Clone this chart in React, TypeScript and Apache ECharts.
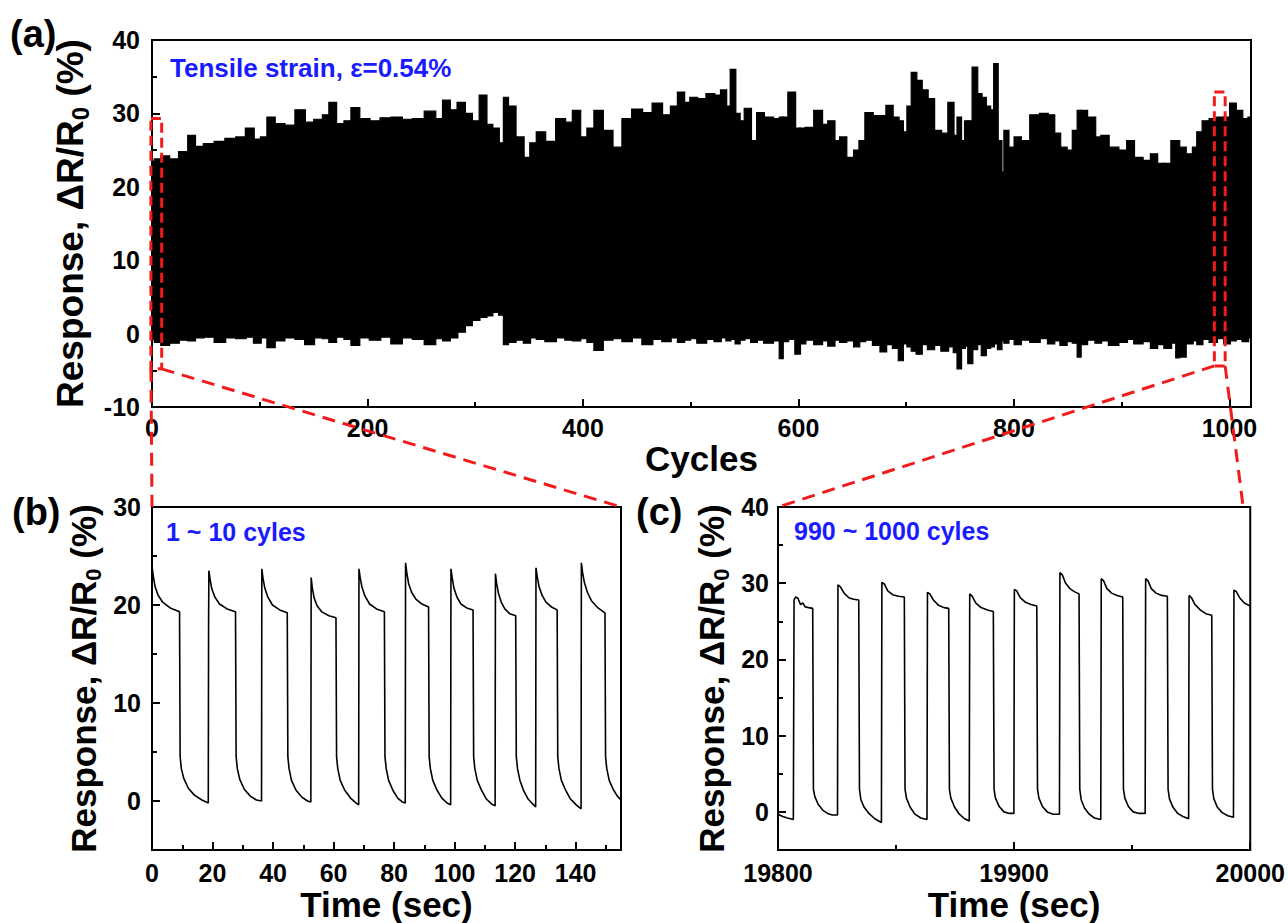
import React, { useEffect, useRef } from "react";
import * as echarts from "echarts";

const FONT = '"Liberation Sans", Arial, Helvetica, sans-serif';
const BLUE = "#1a1aff";
const RED = "#f01c1c";

// ---------- Panel (a): envelope of the dense response over 1000 cycles ----------
const aCycles = [
  0, 5, 12, 20, 30, 37, 43, 53, 63, 73,
  83, 91, 98, 104, 110, 118, 128, 138, 146, 155,
  162, 167, 175, 182, 188, 197, 207, 217, 227, 237,
  247, 259, 267, 273, 280, 287, 294, 300, 308, 313,
  319, 325, 328, 333, 342, 348, 354, 360, 370, 380,
  387, 394, 401, 407, 414, 423, 432, 441, 450, 460,
  469, 478, 485, 491, 497, 502, 510, 519, 525, 531,
  535, 539, 544, 547, 553, 559, 564, 572, 581, 584,
  587, 594, 600, 603, 610, 619, 625, 630, 637, 640,
  649, 654, 659, 665, 673, 679, 684, 691, 695, 699,
  703, 707, 712, 717, 723, 729, 736, 742, 746, 749,
  753, 756, 759, 764, 768, 772, 776, 780, 783, 787,
  790, 792, 798, 803, 810, 820, 828, 835, 840, 846,
  852, 857, 861, 863, 873, 878, 884, 892, 902, 908,
  915, 924, 930, 936, 943, 949, 952, 955, 964, 968,
  972, 978, 985, 992, 998, 1003, 1009, 1015, 1020,
];
const aUpper = [
  23.5, 23.8, 24.2, 23.8, 24.8, 27.0, 25.5, 25.9, 26.2, 26.6,
  26.8, 28.0, 26.5, 26.8, 29.5, 28.6, 28.4, 30.5, 28.8, 29.2,
  29.8, 31.5, 28.6, 29.0, 30.8, 29.3, 29.0, 29.4, 29.5, 29.2,
  29.3, 30.3, 29.3, 31.8, 30.5, 31.5, 30.0, 29.0, 32.5, 28.5,
  28.0, 26.0, 32.2, 31.0, 26.8, 24.0, 26.0, 27.5, 26.2, 29.3,
  28.8, 30.4, 26.8, 28.0, 30.4, 27.7, 25.4, 29.3, 30.6, 30.1,
  31.4, 29.8, 31.0, 32.9, 31.5, 32.2, 32.0, 32.7, 32.5, 33.2,
  31.0, 36.0, 30.0, 29.0, 30.7, 26.3, 30.1, 29.5, 29.3, 29.5,
  29.5, 32.9, 28.0, 28.0, 28.1, 30.4, 28.5, 29.0, 26.3, 26.8,
  24.0, 25.0, 26.3, 30.1, 29.7, 29.7, 31.1, 29.5, 29.0, 27.5,
  31.0, 35.6, 34.5, 33.2, 32.0, 27.7, 27.3, 31.5, 27.0, 29.5,
  26.3, 29.0, 29.0, 36.3, 32.7, 32.2, 31.0, 30.5, 36.8, 26.3,
  22.0, 27.7, 25.4, 26.8, 26.3, 29.8, 30.0, 29.8, 27.3, 25.4,
  25.0, 27.7, 30.4, 30.4, 29.5, 26.8, 27.0, 25.4, 25.0, 26.3,
  24.0, 23.6, 24.5, 23.2, 23.2, 26.3, 26.3, 25.4, 24.5, 25.4,
  27.5, 29.0, 29.3, 29.5, 29.5, 31.4, 30.4, 29.3, 29.5,
];
const aLower = [
  -0.8, -1.2, -1.6, -1.3, -0.9, -1.0, -0.6, -0.5, -1.2, -0.6,
  -0.7, -0.5, -1.3, -0.6, -1.9, -1.0, -0.6, -0.8, -1.5, -0.6,
  -0.7, -1.2, -0.5, -0.8, -1.6, -0.6, -0.9, -0.5, -1.4, -0.6,
  -0.8, -1.5, -0.7, -1.0, -0.6, 0.2, 1.1, 1.8, 2.2, 2.4,
  2.9, 2.5, -1.5, -1.2, -0.9, -1.3, -0.6, -0.8, -1.1, -0.6,
  -0.9, -1.0, -0.7, -1.2, -2.3, -0.9, -0.7, -1.1, -0.6, -1.5,
  -0.8, -1.1, -0.6, -1.2, -0.9, -0.7, -1.3, -0.8, -1.1, -0.6,
  -1.0, -0.8, -1.4, -0.9, -0.7, -1.2, -0.9, -1.3, -1.0, -3.4,
  -1.1, -0.8, -2.8, -1.4, -0.9, -1.5, -1.0, -1.7, -0.9, -1.2,
  -1.0, -1.8, -1.1, -0.9, -1.6, -2.5, -1.5, -2.0, -3.7, -1.4,
  -1.8, -2.4, -2.8, -1.5, -2.2, -1.6, -2.4, -1.8, -2.6, -4.8,
  -2.0, -1.7, -4.1, -2.2, -1.5, -3.0, -2.0, -1.8, -1.4, -2.2,
  -1.0, -1.3, -0.8, -1.5, -0.9, -1.2, -0.7, -1.4, -1.0, -1.6,
  -1.1, -1.3, -3.2, -1.5, -0.9, -1.3, -1.0, -1.6, -1.2, -0.8,
  -1.4, -1.1, -2.0, -1.5, -2.0, -1.3, -3.3, -3.2, -1.4, -1.0,
  -1.5, -0.8, -1.2, -0.7, -1.4, -1.0, -0.8, -1.1, -0.6,
];

// ---------- Panel (b): 1 ~ 10 cycles (time in s, response in %) ----------
const bPoints: [number, number][] = [
  [0, 24.0], [0.4, 23.0], [1, 21.9], [2, 21.0], [3.5, 20.3], [6, 19.7], [9.1, 19.3],
  [9.3, 4.5], [9.7, 3.3], [10.5, 2.3], [12, 1.3], [14, 0.6], [16.5, 0.1], [18.6, -0.2],
  [18.7, 17.8], [18.8, 23.5], [19.2, 22.6], [19.8, 21.6], [20.8, 20.8], [22.3, 20.1], [24.8, 19.6], [27.6, 19.3],
  [27.8, 4.5], [28.2, 3.3], [29, 2.2], [30.5, 1.2], [32.5, 0.5], [34.5, 0.1], [36.2, 0.0],
  [36.3, 23.7], [36.7, 22.7], [37.3, 21.7], [38.3, 20.8], [39.8, 20.0], [42.2, 19.5], [44.7, 19.2],
  [44.9, 4.5], [45.3, 3.3], [46.1, 2.1], [47.6, 1.1], [49.5, 0.4], [51.4, 0.0], [52.5, -0.1],
  [52.6, 22.8], [53, 21.7], [53.6, 20.7], [54.6, 19.9], [56.1, 19.3], [58.5, 18.9], [60.8, 18.7],
  [61, 4.5], [61.4, 3.3], [62.2, 2.1], [63.7, 1.1], [65.6, 0.3], [67.4, -0.2], [68.3, -0.4],
  [68.4, 23.7], [68.8, 22.8], [69.4, 21.8], [70.4, 20.9], [71.9, 20.1], [74.2, 19.6], [76.8, 19.3],
  [77, 4.5], [77.4, 3.3], [78.2, 2.1], [79.6, 1.1], [81.2, 0.3], [82.7, -0.1], [83.7, -0.2],
  [83.8, 24.3], [84.2, 23.3], [84.8, 22.2], [85.8, 21.3], [87.2, 20.6], [89.2, 20.1], [91.4, 19.8],
  [91.6, 4.5], [92, 3.3], [92.8, 2.1], [94.2, 1.1], [95.8, 0.3], [97.5, -0.2], [98.7, -0.4],
  [98.8, 23.7], [99.2, 22.8], [99.8, 21.7], [100.8, 20.8], [102.1, 20.1], [104, 19.7], [106.1, 19.5],
  [106.3, 4.5], [106.7, 3.3], [107.5, 2.1], [108.9, 1.1], [110.5, 0.2], [112.2, -0.3], [113.4, -0.5],
  [113.5, 23.2], [113.9, 22.2], [114.5, 21.2], [115.4, 20.3], [116.6, 19.6], [118.3, 19.1], [120.2, 18.9],
  [120.4, 4.5], [120.8, 3.3], [121.6, 2.1], [122.9, 1.0], [124.3, 0.2], [125.8, -0.3], [126.8, -0.6],
  [126.9, 23.8], [127.3, 22.9], [127.9, 21.9], [128.9, 21.0], [130.2, 20.3], [132, 19.8], [133.9, 19.5],
  [134.1, 4.5], [134.5, 3.3], [135.3, 2.1], [136.7, 1.1], [138.3, 0.2], [140.2, -0.4], [141.8, -0.8],
  [141.9, 24.3], [142.3, 23.3], [142.9, 22.3], [143.9, 21.3], [145.3, 20.4], [147.4, 19.7], [149.7, 19.2],
  [149.9, 4.5], [150.3, 3.3], [151.1, 2.1], [152.4, 1.2], [153.8, 0.5], [155, 0.1],
];

// ---------- Panel (c): 990 ~ 1000 cycles ----------
const cPoints: [number, number][] = [
  [19800, -0.3], [19802, -0.6], [19804, -0.8], [19806.5, -1.0],
  [19806.8, 27.8], [19807.5, 28.2], [19808.5, 28.0], [19809.5, 27.2], [19810.5, 27.4], [19811.5, 26.9], [19813, 26.8], [19814.7, 26.7],
  [19815, 3.0], [19815.6, 2.0], [19817, 1.0], [19819, 0.2], [19821, -0.2], [19823, -0.4], [19825.2, -0.4],
  [19825.4, 29.8], [19826.5, 29.5], [19828, 28.7], [19830, 28.1], [19832, 27.9], [19834.2, 27.8],
  [19834.5, 3.0], [19835.1, 1.6], [19836.5, 0.6], [19838.5, -0.2], [19841, -0.9], [19843.8, -1.4],
  [19844, 30.1], [19845, 29.9], [19846.5, 29.0], [19848.5, 28.5], [19851, 28.3], [19853.5, 28.2],
  [19853.8, 3.0], [19854.4, 1.8], [19856, 0.6], [19858, -0.3], [19860.5, -0.8], [19863.1, -1.0],
  [19863.3, 28.8], [19864.3, 28.6], [19865.8, 27.8], [19868, 27.1], [19870.3, 26.8], [19872.3, 26.7],
  [19872.6, 3.0], [19873.2, 1.8], [19874.8, 0.6], [19876.8, -0.3], [19879, -0.9], [19881, -1.2],
  [19881.2, 28.6], [19882.2, 28.3], [19883.8, 27.4], [19886, 26.8], [19888.7, 26.5], [19891.2, 26.3],
  [19891.5, 3.0], [19892.1, 1.8], [19893.7, 0.7], [19895.7, 0.0], [19898, -0.2], [19899.9, -0.2],
  [19900.1, 29.2], [19901.1, 29.0], [19902.6, 28.1], [19904.8, 27.5], [19907.2, 27.2], [19909.6, 27.0],
  [19909.9, 3.0], [19910.5, 1.8], [19912, 0.7], [19914, 0.0], [19916.5, -0.3], [19919.2, -0.3],
  [19919.4, 31.4], [19920.4, 31.1], [19921.8, 30.0], [19923.6, 29.3], [19925.5, 28.9], [19927.5, 28.6],
  [19927.8, 3.0], [19928.4, 1.6], [19929.8, 0.5], [19931.8, -0.3], [19934, -0.8], [19936.7, -1.0],
  [19936.9, 30.6], [19937.9, 30.3], [19939.3, 29.3], [19941.3, 28.7], [19943.6, 28.4], [19946, 28.2],
  [19946.3, 3.0], [19946.9, 1.8], [19948.4, 0.7], [19950.4, 0.0], [19953, -0.2], [19955.5, -0.2],
  [19955.7, 30.6], [19956.7, 30.3], [19958.1, 29.3], [19960.1, 28.7], [19962.5, 28.4], [19964.9, 28.3],
  [19965.2, 3.0], [19965.8, 1.7], [19967.3, 0.6], [19969.3, -0.2], [19971.5, -0.6], [19973.9, -0.9],
  [19974.1, 28.4], [19975.1, 28.1], [19976.6, 27.2], [19978.8, 26.5], [19981.2, 26.0], [19983.7, 25.8],
  [19984, 3.0], [19984.6, 1.7], [19986.1, 0.6], [19988.1, -0.1], [19990.5, -0.5], [19992.9, -0.7],
  [19993.1, 29.1], [19994.1, 28.9], [19995.5, 28.1], [19997.5, 27.4], [20000, 27.0],
];

// ---------- Tick values ----------
const aXTicks = [0, 200, 400, 600, 800, 1000];
const aXMinor = [100, 300, 500, 700, 900];
const aYTicks = [-10, 0, 10, 20, 30, 40];
const aYMinor = [-5, 5, 15, 25, 35];
const bXTicks = [0, 20, 40, 60, 80, 100, 120, 140];
const bXMinor = [10, 30, 50, 70, 90, 110, 130, 150];
const bYTicks = [0, 10, 20, 30];
const bYMinor = [5, 15, 25];
const cXTicks = [19800, 19900, 20000];
const cXMinor = [19850, 19950];
const cYTicks = [0, 10, 20, 30, 40];
const cYMinor = [5, 15, 25, 35];

// zoom boxes in panel (a) coordinates [cycle0, cycle1, yTop, yBottom]
const leftBox = [-1, 9, 29.3, -4.8];
const rightBox = [986, 996, 32.9, -4.4];

const labelStyle = (margin: number) => ({
  fontSize: 25,
  fontWeight: "bold" as const,
  fontFamily: FONT,
  color: "#000",
  margin,
  formatter: (v: number) => String(v),
});

const yName = "{t|Response, ΔR/R}{s|0}{t| (%)}";
const yNameStyle = (size: number) => ({
  rich: {
    t: { fontSize: size, fontWeight: "bold", fontFamily: FONT, color: "#000", lineHeight: size + 6 },
    s: { fontSize: Math.round(size * 0.64), fontWeight: "bold", fontFamily: FONT, color: "#000", lineHeight: 20, verticalAlign: "bottom" },
  },
});
const xNameStyle = { fontSize: 35, fontWeight: "bold", fontFamily: FONT, color: "#000" };

function mainX(grid: number, min: number, max: number, ticks: number[], name: string, gap: number, margin: number) {
  return {
    type: "value",
    gridIndex: grid,
    position: "bottom",
    z: 10,
    min,
    max,
    axisLine: { show: true, onZero: false, lineStyle: { color: "#000", width: 2 } },
    axisTick: { show: true, inside: true, length: 8, customValues: ticks, lineStyle: { color: "#000", width: 2 } },
    axisLabel: { ...labelStyle(margin), customValues: ticks },
    splitLine: { show: false },
    name,
    nameLocation: "middle",
    nameGap: gap,
    nameTextStyle: xNameStyle,
  };
}
function minorX(grid: number, min: number, max: number, ticks: number[]) {
  return {
    type: "value",
    gridIndex: grid,
    position: "bottom",
    z: 10,
    min,
    max,
    axisLine: { show: false, onZero: false },
    axisTick: { show: true, inside: true, length: 5, customValues: ticks, lineStyle: { color: "#000", width: 2 } },
    axisLabel: { show: false },
    splitLine: { show: false },
  };
}
function mainY(grid: number, min: number, max: number, ticks: number[], gap: number, margin: number, nameSize: number) {
  return {
    type: "value",
    gridIndex: grid,
    position: "left",
    z: 10,
    min,
    max,
    axisLine: { show: true, onZero: false, lineStyle: { color: "#000", width: 2 } },
    axisTick: { show: true, inside: true, length: 8, customValues: ticks, lineStyle: { color: "#000", width: 2 } },
    axisLabel: { ...labelStyle(margin), customValues: ticks },
    splitLine: { show: false },
    name: yName,
    nameLocation: "middle",
    nameRotate: 90,
    nameGap: gap,
    nameTextStyle: yNameStyle(nameSize),
  };
}
function minorY(grid: number, min: number, max: number, ticks: number[]) {
  return {
    type: "value",
    gridIndex: grid,
    position: "left",
    z: 10,
    min,
    max,
    axisLine: { show: false, onZero: false },
    axisTick: { show: true, inside: true, length: 5, customValues: ticks, lineStyle: { color: "#000", width: 2 } },
    axisLabel: { show: false },
    splitLine: { show: false },
  };
}

function buildOption() {
  const gridStyle = { show: true, borderColor: "#000", borderWidth: 2, backgroundColor: "transparent", containLabel: false };
  const n = Math.min(aCycles.length, aUpper.length, aLower.length);
  return {
    animation: false,
    backgroundColor: "#fff",
    textStyle: { fontFamily: FONT },
    grid: [
      { ...gridStyle, left: 152, top: 40, width: 1099, height: 367 },
      { ...gridStyle, left: 152, top: 507, width: 469, height: 346 },
      { ...gridStyle, left: 778, top: 507, width: 473, height: 346 },
    ],
    xAxis: [
      mainX(0, 0, 1020, aXTicks, "Cycles", 33, 8),
      mainX(1, 0, 155, bXTicks, "Time (sec)", 37, 10),
      mainX(2, 19800, 20000, cXTicks, "Time (sec)", 37, 10),
      minorX(0, 0, 1020, aXMinor),
      minorX(1, 0, 155, bXMinor),
      minorX(2, 19800, 20000, cXMinor),
    ],
    yAxis: [
      mainY(0, -10, 40, aYTicks, 60, 12, 37),
      mainY(1, -5, 30, bYTicks, 48, 11, 35),
      mainY(2, -5, 40, cYTicks, 46, 9, 35),
      minorY(0, -10, 40, aYMinor),
      minorY(1, -5, 30, bYMinor),
      minorY(2, -5, 40, cYMinor),
    ],
    series: [
      {
        // dense cycling band: each sample spans from the midpoint to its neighbours,
        // vertically from the lower to the upper response envelope
        type: "custom",
        xAxisIndex: 0,
        yAxisIndex: 0,
        data: aCycles.slice(0, n).map((c, i) => [c, aUpper[i], aLower[i]]),
        encode: { x: 0, y: [1, 2] },
        renderItem: (params: any, api: any) => {
          const i = params.dataIndex;
          const c = api.value(0);
          const left = i > 0 ? (aCycles[i - 1] + c) / 2 : c;
          const right = i < n - 1 ? (aCycles[i + 1] + c) / 2 : c;
          const p1 = api.coord([left, api.value(1)]);
          const p2 = api.coord([right, api.value(2)]);
          return {
            type: "rect",
            shape: { x: p1[0] - 0.4, y: p1[1], width: p2[0] - p1[0] + 0.8, height: p2[1] - p1[1] },
            style: { fill: "#000", stroke: "#000", lineWidth: 1.2 },
          };
        },
      },
      {
        type: "line",
        xAxisIndex: 1,
        yAxisIndex: 1,
        symbol: "none",
        data: bPoints,
        lineStyle: { color: "#000", width: 1.6 },
      },
      {
        type: "line",
        xAxisIndex: 2,
        yAxisIndex: 2,
        symbol: "none",
        data: cPoints,
        lineStyle: { color: "#000", width: 1.6 },
      },
    ],
  };
}

export default function App() {
  const ref = useRef<HTMLDivElement>(null);
  useEffect(() => {
    if (!ref.current) return;
    const chart = echarts.init(ref.current, null, { renderer: "svg" });
    chart.setOption(buildOption() as any);

    const X = (idx: number, v: number) => chart.convertToPixel({ xAxisIndex: idx } as any, v) as unknown as number;
    const Y = (idx: number, v: number) => chart.convertToPixel({ yAxisIndex: idx } as any, v) as unknown as number;

    const lx1 = X(0, leftBox[0]), lx2 = X(0, leftBox[1]), ly1 = Y(0, leftBox[2]), ly2 = Y(0, leftBox[3]);
    const rx1 = X(0, rightBox[0]), rx2 = X(0, rightBox[1]), ry1 = Y(0, rightBox[2]), ry2 = Y(0, rightBox[3]);

    const dashLine = (x1: number, y1: number, x2: number, y2: number) => ({
      type: "line",
      z: 100,
      shape: { x1, y1, x2, y2 },
      style: { stroke: RED, lineWidth: 3, lineDash: [13, 8] },
    });
    const dashRect = (x1: number, y1: number, x2: number, y2: number) => ({
      type: "rect",
      z: 100,
      shape: { x: x1, y: y1, width: x2 - x1, height: y2 - y1 },
      style: { fill: "none", stroke: RED, lineWidth: 3, lineDash: [10, 5] },
    });
    const txt = (text: string, x: number, y: number, size: number, color: string) => ({
      type: "text",
      z: 100,
      x,
      y,
      style: {
        text,
        fontSize: size,
        fontWeight: "bold",
        fontFamily: FONT,
        fill: color,
        align: "left",
        verticalAlign: "middle",
      },
    });

    chart.setOption({
      graphic: [
        dashRect(lx1, ly1, lx2, ly2),
        dashRect(rx1, ry1, rx2, ry2),
        dashLine(lx1, ly2, X(1, 0), Y(1, 30)),
        dashLine(lx2, ly2, X(1, 155), Y(1, 30)),
        dashLine(rx1, ry2, X(2, 19800), Y(2, 40)),
        dashLine(rx2, ry2, X(2, 19997), Y(2, 40)),
        txt("(a)", 10, 34, 38, "#000"),
        txt("(b)", 12, 512, 38, "#000"),
        txt("(c)", 636, 512, 38, "#000"),
        txt("Tensile strain, ε=0.54%", 170, 68, 26, BLUE),
        txt("1 ~ 10 cyles", 166, 532, 25, BLUE),
        txt("990 ~ 1000 cyles", 794, 531, 25, BLUE),
      ],
    } as any);

    return () => chart.dispose();
  }, []);
  return (
    <div
      ref={ref}
      style={{ position: "absolute", left: 0, top: 0, width: 1288, height: 923, background: "#fff" }}
    />
  );
}
